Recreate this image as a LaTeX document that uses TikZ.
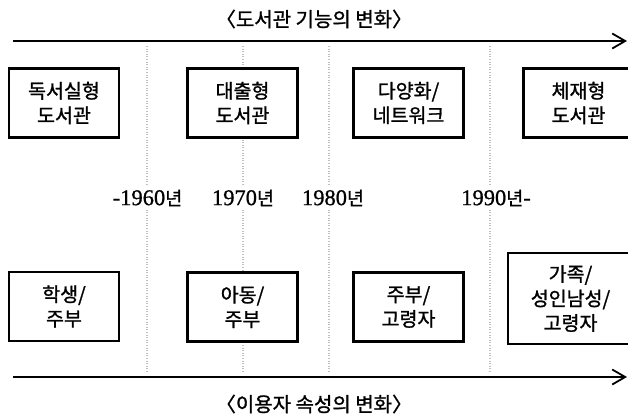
\documentclass[tikz,border=0pt]{standalone}
\usepackage{fontspec}
\usetikzlibrary{arrows.meta}
\newfontfamily\kr{Noto Sans CJK KR}[RawFeature={embolden=1.2}]
\newfontfamily\yr{Liberation Serif}[RawFeature={embolden=0.8}]
\tikzset{
  boxnode/.style={draw, line width=2.4pt, fill=white, align=center, inner sep=0pt,
    minimum width=110pt, minimum height=69pt,
    font=\kr\fontsize{19.5}{24.5}\selectfont},
  yearnode/.style={fill=white, inner xsep=1pt, inner ysep=4pt,
    font=\yr\fontsize{22.5}{22.5}\selectfont},
  titlenode/.style={font=\kr\fontsize{20}{20}\selectfont},
  timeline/.style={line width=1.8pt, -{Straight Barb[length=13pt,width=15pt,line width=1.8pt]}},
  divider/.style={gray!50, line width=1.6pt, dash pattern=on 0.8pt off 1.8pt}
}
\begin{document}
\begin{tikzpicture}[x=1pt,y=-1pt]
\useasboundingbox (0,0) rectangle (628,418);
% titles
\node[titlenode] (ttop) at (314,19) {〈도서관 기능의 변화〉};
\node[titlenode] (tbot) at (314,404) {〈이용자 속성의 변화〉};
% arrows
\coordinate (a1s) at (13,41);
\coordinate (a1e) at (627,41);
\coordinate (a2s) at (13,377);
\coordinate (a2e) at (627,377);
\draw[timeline] (a1s) -- (a1e);
\draw[timeline] (a2s) -- (a2e);
% dividers
\foreach \x/\n in {147/d1,243/d2,329/d3,490/d4}{
  \coordinate (\n t) at (\x,46);
  \coordinate (\n b) at (\x,372);
  \draw[divider] (\n t) -- (\n b);
}
% top boxes
\node[boxnode] (f1) at (64,103) {독서실형\\도서관};
\node[boxnode] (f2) at (242.5,103) {대출형\\도서관};
\node[boxnode] (f3) at (408.5,103) {다양화/\\네트워크};
\node[boxnode] (f4) at (578.5,103) {체재형\\도서관};
% years
\node[yearnode] (y1) at (147.5,198) {-1960{\kr\fontsize{18.5}{18.5}\selectfont 년}};
\node[yearnode] (y2) at (243,198) {1970{\kr\fontsize{18.5}{18.5}\selectfont 년}};
\node[yearnode] (y3) at (333,198) {1980{\kr\fontsize{18.5}{18.5}\selectfont 년}};
\node[yearnode] (y4) at (496,198) {1990{\kr\fontsize{18.5}{18.5}\selectfont 년}-};
% bottom boxes
\node[boxnode] (u1) at (64,306.5) {학생/\\주부};
\node[boxnode] (u2) at (242.5,307) {아동/\\주부};
\node[boxnode] (u3) at (408.5,307) {주부/\\고령자};
\node[boxnode, minimum width=125pt, minimum height=91pt] (u4) at (570.5,298.5) {가족/\\성인남성/\\고령자};
\end{tikzpicture}
\end{document}
